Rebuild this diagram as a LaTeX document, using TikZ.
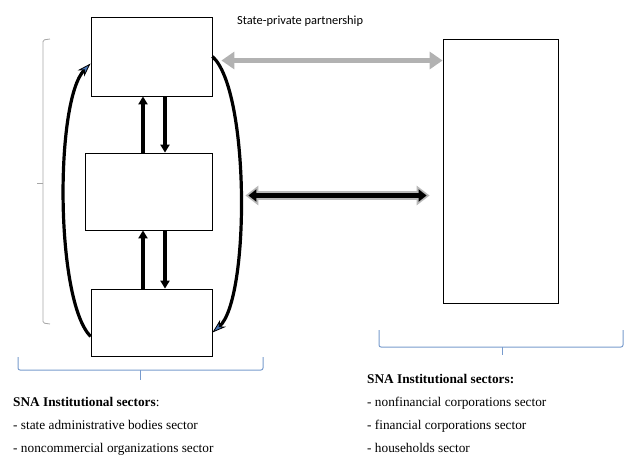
\documentclass[tikz,border=0pt]{standalone}
\usepackage{fontspec}
\usepackage{xcolor}
\setmainfont{Liberation Serif}
\newfontfamily\labelfont{Carlito}
\usetikzlibrary{arrows.meta}
\definecolor{braceblue}{RGB}{120,155,205}
\definecolor{tipblue}{RGB}{70,115,180}

\begin{document}
\begin{tikzpicture}[
    x=1pt, y=-1pt,
    sector/.style={draw, line width=0.8pt, inner sep=0pt},
    flow/.style={line width=3.4pt, -{Triangle[length=8pt,width=9pt]}},
    cycle/.style={line width=3.2pt, -{Stealth[length=14pt,width=9pt,line width=0.8pt,fill=tipblue]}},
    partner/.style={line width=5pt, gray!60, {Triangle[length=13pt,width=17pt]}-{Triangle[length=13pt,width=17pt]}},
    market/.style={line width=9pt, gray!55, {Triangle[length=13pt,width=19pt]}-{Triangle[length=13pt,width=19pt]}},
    marketcore/.style={line width=5pt, black, shorten <=3pt, shorten >=3pt, {Triangle[length=8pt,width=12pt]}-{Triangle[length=8pt,width=12pt]}},
    bracket/.style={gray!70, line width=0.8pt, rounded corners=1.5pt},
    bluebrace/.style={braceblue, line width=1pt, rounded corners=2pt},
    sectortext/.style={anchor=base west, align=left, inner sep=0pt}
  ]
  \useasboundingbox (0,0) rectangle (624,456);

  \node[sector, minimum width=121pt, minimum height=79pt] (admin) at (151.5,56.5) {};
  \node[sector, minimum width=127pt, minimum height=77pt] (middle) at (148.5,191.5) {};
  \node[sector, minimum width=121pt, minimum height=67pt] (lower) at (151.5,322.5) {};
  \node[sector, minimum width=115pt, minimum height=264pt] (business) at (500.5,171) {};

  \coordinate (upx) at (143,0);
  \coordinate (downx) at (165,0);
  \draw[flow] (middle.north -| upx) -- (admin.south -| upx);
  \draw[flow] (admin.south -| downx) -- (middle.north -| downx);
  \draw[flow] (lower.north -| upx) -- (middle.south -| upx);
  \draw[flow] (middle.south -| downx) -- (lower.north -| downx);

  \draw[cycle] ([yshift=-14pt]lower.west) .. controls (55,300) and (55,100) .. ([yshift=-7pt]admin.west);
  \draw[cycle] (admin.east) .. controls (250,90) and (250,300) .. ([yshift=-10pt]lower.east);

  \draw[partner] ([xshift=9pt,yshift=-4pt]admin.east) -- ([yshift=-4pt]admin.east -| business.west);
  \draw[market] ([xshift=33pt,yshift=-4pt]middle.east) -- ([xshift=-13pt,yshift=-4pt]middle.east -| business.west);
  \draw[marketcore] ([xshift=33pt,yshift=-4pt]middle.east) -- ([xshift=-13pt,yshift=-4pt]middle.east -| business.west);

  \node[anchor=base west, inner sep=0pt, font=\labelfont\fontsize{12.4}{14}\selectfont] (ppp) at (237,24) {State-private partnership};

  \draw[bracket] (50,39) -- (43,40) -- (43,323) -- (50,324);
  \draw[bracket] (43,183) -- (37,183);

  \draw[bluebrace] (18,357) -- (18,370) -- (263,370) -- (263,357);
  \draw[bluebrace] (140,370) -- (140,380);
  \draw[bluebrace] (379,330) -- (379,347) -- (623,347) -- (623,330);
  \draw[bluebrace] (502,347) -- (502,355);

  \node[sectortext, font=\fontsize{13.3}{23}\selectfont] (stateside) at (13,452) {\textbf{SNA Institutional  sectors}:\\- state administrative bodies sector\\- noncommercial organizations sector};
  \node[sectortext, font=\fontsize{13.3}{23}\selectfont] (marketside) at (367,452) {\textbf{SNA Institutional sectors:}\\- nonfinancial corporations sector\\- financial corporations sector\\- households sector};

  %\draw (business.south) -- (marketside.north);
\end{tikzpicture}
\end{document}
